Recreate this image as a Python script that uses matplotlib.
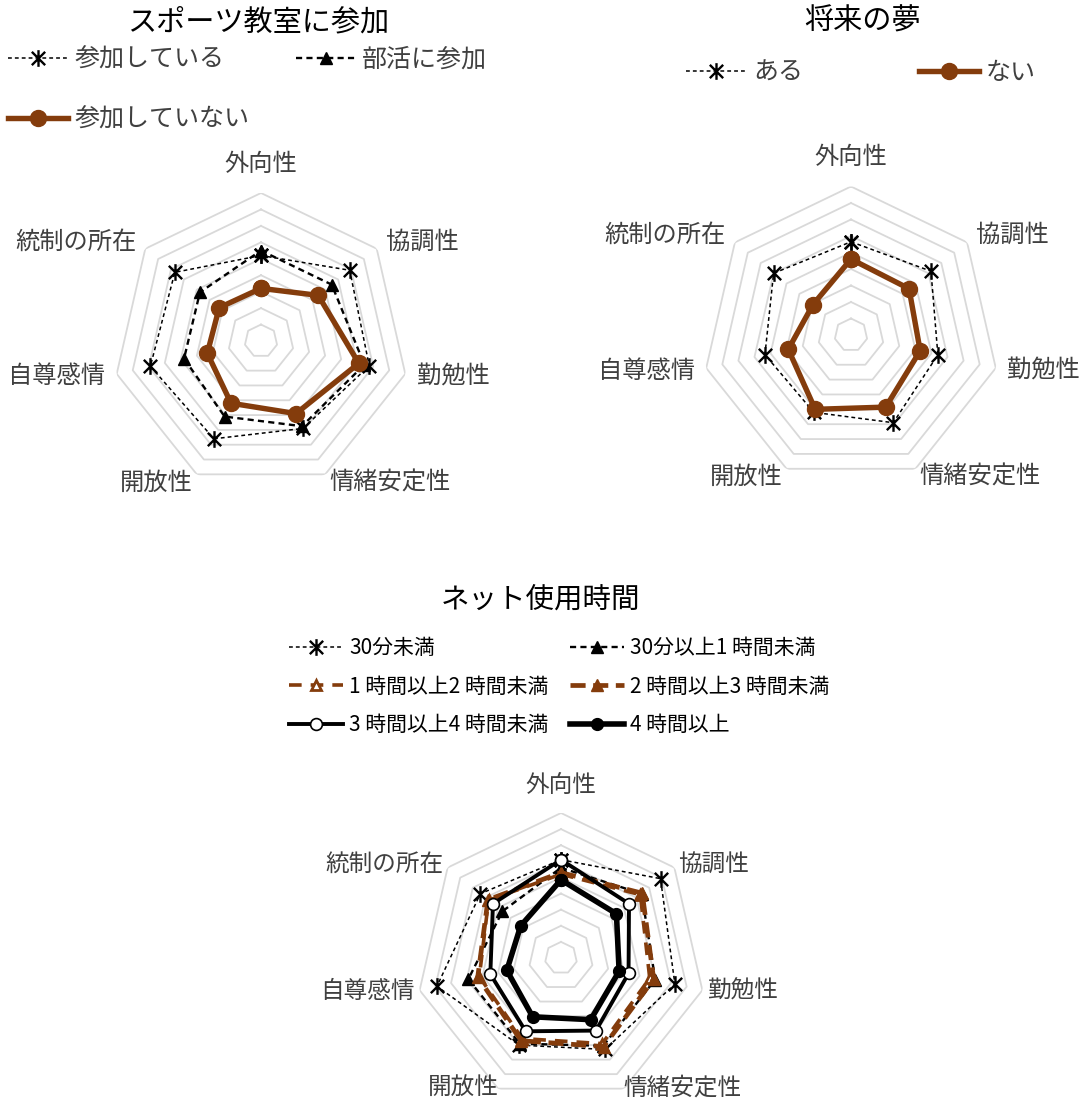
import numpy as np
import matplotlib
matplotlib.use('Agg')
import matplotlib.pyplot as plt
from matplotlib.path import Path

plt.rcParams['font.family'] = ['Noto Sans CJK JP', 'DejaVu Sans']

# axis names, clockwise from the top
categories = ['外向性', '協調性', '勤勉性', '情緒安定性', '開放性', '自尊感情', '統制の所在']

# values in ring units (9 rings, centre = 0)
sports_title = 'スポーツ教室に参加'
sports_yes = [5.2, 6.9, 6.75, 5.9, 6.6, 6.9, 6.7]
sports_club = [5.5, 5.5, 6.45, 5.75, 5.1, 4.8, 4.75]
sports_no = [3.2, 4.45, 6.1, 4.9, 4.2, 3.35, 3.25]
sports_names = ['参加している', '部活に参加', '参加していない']

dream_title = '将来の夢'
dream_yes = [5.65, 6.2, 5.4, 5.9, 5.2, 5.35, 6.0]
dream_no = [4.6, 4.5, 4.3, 4.85, 5.0, 3.9, 2.95]
dream_names = ['ある', 'ない']

net_title = 'ネット使用時間'
net_lt30 = [6.1, 7.9, 7.25, 6.3, 6.0, 7.9, 6.4]
net_30to1 = [5.6, 6.4, 6.0, 6.05, 5.9, 5.9, 4.65]
net_1to2 = [5.2, 6.3, 5.65, 5.9, 5.55, 5.2, 5.75]
net_2to3 = [5.3, 6.45, 5.9, 6.1, 5.7, 5.3, 5.8]
net_3to4 = [6.1, 5.4, 4.3, 5.0, 5.05, 4.5, 5.4]
net_4plus = [4.85, 4.4, 3.7, 4.25, 4.05, 3.45, 3.2]
net_names = ['30分未満', '30分以上1 時間未満', '1 時間以上2 時間未満',
             '2 時間以上3 時間未満', '3 時間以上4 時間未満', '4 時間以上']

BROWN = '#843C0C'
LABEL = '#404040'

# Excel-like star marker: an x with a vertical bar
star = Path([(-1, -1), (1, 1), (-1, 1), (1, -1), (0, 1.25), (0, -1.25)],
            [Path.MOVETO, Path.LINETO, Path.MOVETO, Path.LINETO, Path.MOVETO, Path.LINETO])

style_star = dict(color='black', lw=1.1, ls=(0, (2.5, 2)), marker=star, ms=12, mew=1.7)
style_tri = dict(color='black', lw=1.7, ls=(0, (2.6, 1.8)), marker='^', ms=8)
style_brown = dict(color=BROWN, lw=3.9, ls='-', marker='o', ms=11.5)
style_brown_open = dict(color=BROWN, lw=2.6, ls=(0, (3.5, 2.5)), marker='^', ms=7,
                        mfc='white', mec=BROWN, mew=2)
style_brown_tri = dict(color=BROWN, lw=3.4, ls=(0, (3.2, 1.6)), marker='^', ms=8)
style_open = dict(color='black', lw=2.8, ls='-', marker='o', ms=8.5, mfc='white', mec='black', mew=1.2)
style_dot = dict(color='black', lw=4.0, ls='-', marker='o', ms=8.5)

angles = np.arange(len(categories)) * 2 * np.pi / len(categories)
closed = np.append(angles, angles[0])

fig = plt.figure(figsize=(10.82, 10.99), dpi=100)
W, H = 1082, 1099


# Build one heptagon radar panel centred at pixel (cx, cy) with outer radius R.
def radarAxes(cx, cy, R, fontsize, r_side, r_bottom):
    ax = fig.add_axes([(cx - R) / W, 1 - (cy + R) / H, 2 * R / W, 2 * R / H], projection='polar')
    ax.set_theta_offset(np.pi / 2)
    ax.set_theta_direction(-1)
    ax.set_ylim(0, 9)
    for ring in range(1, 10):
        ax.plot(closed, [ring] * len(closed), color='#D9D9D9', lw=1.3, zorder=1)
    ax.set_xticks([])
    ax.set_yticks([])
    ax.grid(False)
    ax.spines['polar'].set_visible(False)
    ax.patch.set_alpha(0)
    align = ['center', 'left', 'left', 'left', 'right', 'right', 'right']
    for k, name in enumerate(categories):
        va = 'bottom' if k == 0 else 'center'
        r = 10.0 if k == 0 else (r_bottom if k in (3, 4) else r_side)
        ax.text(angles[k], r, name, ha=align[k], va=va, fontsize=fontsize, color=LABEL)
    return ax


def drawSeries(ax, values, style):
    line, = ax.plot(closed, np.append(values, values[0]), clip_on=False, zorder=3, **style)
    return line


# panel 1: sports
ax1 = radarAxes(261, 341, 148, 17.5, 9.7, 9.55)
l1 = drawSeries(ax1, sports_yes, style_star)
l2 = drawSeries(ax1, sports_club, style_tri)
l3 = drawSeries(ax1, sports_no, style_brown)
fig.text(258 / W, 1 - 22 / H, sports_title, ha='center', va='center', fontsize=21, color='black')
fig.legend([l1, l3, l2], [sports_names[0], sports_names[2], sports_names[1]],
              loc='upper left', bbox_to_anchor=(8 / W, 1 - 47 / H), ncol=2, frameon=False,
              fontsize=18, handlelength=2.4, handletextpad=0.25, columnspacing=1.85,
              labelspacing=1.35, borderpad=0, borderaxespad=0, labelcolor=LABEL)

# panel 2: dream
ax2 = radarAxes(851, 335, 148.5, 17.5, 9.7, 9.55)
m1 = drawSeries(ax2, dream_yes, style_star)
m2 = drawSeries(ax2, dream_no, style_brown)
fig.text(862 / W, 1 - 22 / H, dream_title, ha='center', va='center', fontsize=21, color='black')
fig.legend([m1, m2], dream_names, loc='upper left', bbox_to_anchor=(686 / W, 1 - 60 / H),
           ncol=2, frameon=False, fontsize=18, handlelength=2.4, handletextpad=0.3,
           columnspacing=4.6, borderpad=0, borderaxespad=0, labelcolor=LABEL)

# panel 3: internet time
ax3 = radarAxes(561, 958, 145, 17, 9.3, 8.95)
n1 = drawSeries(ax3, net_lt30, style_star)
n2 = drawSeries(ax3, net_30to1, style_tri)
n3 = drawSeries(ax3, net_1to2, style_brown_open)
n4 = drawSeries(ax3, net_2to3, style_brown_tri)
n5 = drawSeries(ax3, net_3to4, style_open)
n6 = drawSeries(ax3, net_4plus, style_dot)
fig.text(541 / W, 1 - 600 / H, net_title, ha='center', va='center', fontsize=20.5, color='black')
fig.legend([n1, n3, n5, n2, n4, n6],
           [net_names[0], net_names[2], net_names[4], net_names[1], net_names[3], net_names[5]],
           loc='upper left', bbox_to_anchor=(289 / W, 1 - 637 / H), ncol=2, frameon=False,
           fontsize=15, handlelength=2.6, handletextpad=0.3, columnspacing=1.0,
           labelspacing=0.8, borderpad=0, borderaxespad=0)

fig.savefig('out.png', dpi=100)
